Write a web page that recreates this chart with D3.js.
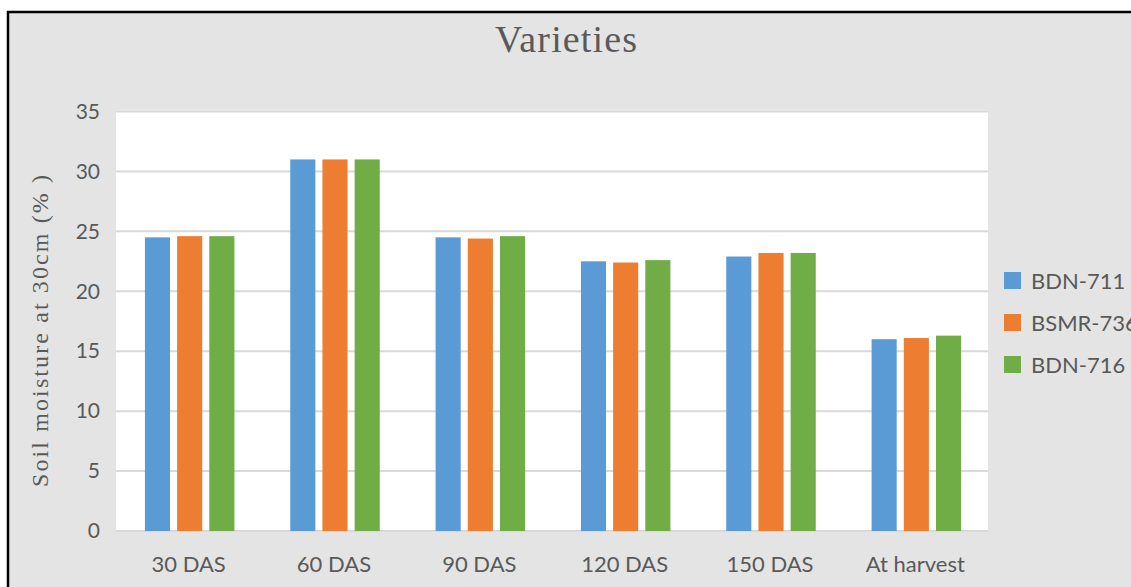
<!DOCTYPE html>
<html><head><meta charset="utf-8">
<script src="https://cdn.jsdelivr.net/npm/d3@7"></script>
<style>body{margin:0;background:#fff;overflow:hidden}svg{display:block}</style>
</head><body>
<svg id="c" width="1131" height="587"></svg>
<script>
const categories = ["30 DAS","60 DAS","90 DAS","120 DAS","150 DAS","At harvest"];
const seriesNames = ["BDN-711","BSMR-736","BDN-716"];
const bdn711 = [24.5, 31.0, 24.5, 22.5, 22.9, 16.0];
const bsmr736 = [24.6, 31.0, 24.4, 22.4, 23.2, 16.1];
const bdn716 = [24.6, 31.0, 24.6, 22.6, 23.2, 16.3];
const yTicks = [0,5,10,15,20,25,30,35];
const colors = ["#5b9bd5","#ed7d31","#70ad47"];
const title = "Varieties";
const yLabel = "Soil moisture at 30cm (% )";

const series = [bdn711, bsmr736, bdn716];
const svg = d3.select("#c");
const FONT = "Lato, 'Open Sans', sans-serif";
svg.append("rect").attr("x",0).attr("y",0).attr("width",1131).attr("height",587).attr("fill","#fff");
svg.append("rect").attr("x",8).attr("y",12).attr("width",1140).attr("height",600).attr("fill","#e4e4e4").attr("stroke","#000").attr("stroke-width",2.5);

const L=116, R=988, T=111.5, B=531;
const x = d3.scaleBand().domain(categories).range([L,R]);
const xs = d3.scaleBand().domain(d3.range(3)).range([0,89.5]).paddingInner(0.22);
const y = d3.scaleLinear().domain([0,35]).range([B,T]);

svg.append("rect").attr("x",L).attr("y",T-1).attr("width",R-L).attr("height",B-T+1).attr("fill","#fff");

const grid = svg.append("g");
grid.selectAll("line").data(yTicks).join("line")
  .attr("x1",L).attr("x2",R).attr("y1",d=>y(d)).attr("y2",d=>y(d))
  .attr("stroke","#d9d9d9").attr("stroke-width",2);

const yAxis = svg.append("g").attr("transform",`translate(${L},0)`)
  .call(d3.axisLeft(y).tickValues(yTicks).tickSize(0).tickPadding(16));
yAxis.select(".domain").remove();
yAxis.selectAll("text").attr("font-family",FONT).attr("font-size",21).attr("fill","#595959");

const xAxis = svg.append("g").attr("transform",`translate(0,${B})`)
  .call(d3.axisBottom(x).tickSize(0));
xAxis.select(".domain").remove();
xAxis.selectAll("text").attr("y",41).attr("dy",0).attr("font-family",FONT).attr("font-size",22).attr("fill","#595959");

const groups = svg.append("g").selectAll("g").data(categories).join("g")
  .attr("transform",d=>`translate(${x(d)+x.bandwidth()/2-89.5/2+1},0)`);
groups.selectAll("rect").data((d,i)=>series.map((s,k)=>({k,v:s[i]}))).join("rect")
  .attr("x",d=>xs(d.k)).attr("width",xs.bandwidth())
  .attr("y",d=>y(d.v)).attr("height",d=>B-y(d.v))
  .attr("fill",d=>colors[d.k]);

svg.append("text").attr("x",566).attr("y",52).attr("text-anchor","middle")
  .attr("font-family","'Liberation Serif', serif").attr("font-size",38)
  .attr("textLength",142).attr("lengthAdjust","spacing")
  .attr("fill","#595959").text(title);

svg.append("text").attr("transform","translate(48,331) rotate(-90)").attr("text-anchor","middle")
  .attr("font-family","'Liberation Serif', serif").attr("font-size",24)
  .attr("textLength",312).attr("lengthAdjust","spacing")
  .attr("fill","#595959").text(yLabel);

const leg = svg.append("g").selectAll("g").data(seriesNames).join("g")
  .attr("transform",(d,i)=>`translate(1004,${272+i*42})`);
leg.append("rect").attr("width",17).attr("height",17).attr("fill",(d,i)=>colors[i]);
leg.append("text").attr("x",27).attr("y",17).attr("font-family",FONT)
  .attr("font-size",22).attr("fill","#595959").text(d=>d);
</script>
</body></html>
